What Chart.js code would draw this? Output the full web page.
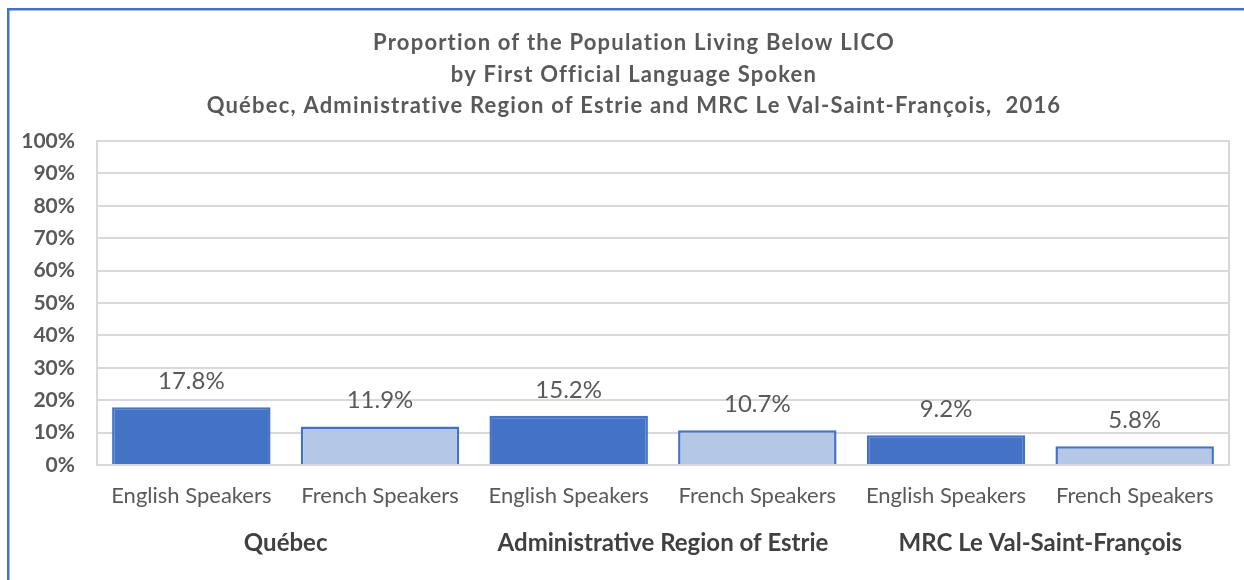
<!DOCTYPE html>
<html>
<head>
<meta charset="utf-8">
<script src="https://cdn.jsdelivr.net/npm/chart.js@4.4.1/dist/chart.umd.min.js"></script>
<style>
  html, body { margin: 0; padding: 0; background: #fff; }
  #wrap { width: 1244px; height: 580px; position: relative; }
</style>
</head>
<body>
<div id="wrap"><canvas id="c" width="1244" height="580"></canvas></div>
<script>
const categories = ["English Speakers", "French Speakers", "English Speakers", "French Speakers", "English Speakers", "French Speakers"];
const groups = ["Québec", "Administrative Region of Estrie", "MRC Le Val-Saint-François"];
const values = [17.8, 11.9, 15.2, 10.7, 9.2, 5.8];
const titleLines = [
  "Proportion of the Population Living Below LICO",
  "by First Official Language Spoken",
  "Québec, Administrative Region of Estrie and MRC Le Val-Saint-François,  2016"
];
const yTicks = [0, 10, 20, 30, 40, 50, 60, 70, 80, 90, 100];

const DARK = "#4472C4", LIGHT = "#B4C7E7", GRID = "#D9D9D9";
const FONT = "Lato, 'Liberation Sans', sans-serif";

const framePlugin = {
  id: "frame",
  beforeDraw(chart) {
    const ctx = chart.ctx;
    ctx.save();
    ctx.fillStyle = "#fff";
    ctx.fillRect(0, 0, chart.width, chart.height);
    ctx.fillStyle = DARK;
    ctx.fillRect(7, 8, chart.width - 7, 2.5);
    ctx.fillRect(7, 8, 2.5, chart.height - 8);
    // title
    ctx.fillStyle = "#595959";
    ctx.font = "bold 22px " + FONT;
    ctx.letterSpacing = "1.2px";
    ctx.textAlign = "center";
    ctx.textBaseline = "middle";
    titleLines.forEach((t, i) => ctx.fillText(t, 634, 43 + i * 31.5));
    ctx.restore();
  },
  afterDatasetsDraw(chart) {
    const ctx = chart.ctx;
    const a = chart.chartArea;
    ctx.save();
    ctx.strokeStyle = GRID;
    ctx.lineWidth = 2;
    ctx.beginPath();
    ctx.moveTo(a.right, a.top - 1);
    ctx.lineTo(a.right, a.bottom);
    ctx.stroke();
    // data labels
    const meta = chart.getDatasetMeta(0);
    ctx.fillStyle = "#595959";
    ctx.font = "24px " + FONT;
    ctx.textAlign = "center";
    ctx.textBaseline = "alphabetic";
    meta.data.forEach((bar, i) => {
      ctx.fillText(values[i].toFixed(1) + "%", bar.x, bar.y - 18);
    });
    ctx.restore();
  }
};

new Chart(document.getElementById("c"), {
  type: "bar",
  data: {
    labels: categories,
    datasets: [{
      data: values,
      backgroundColor: values.map((v, i) => i % 2 === 0 ? DARK : LIGHT),
      borderColor: DARK,
      borderWidth: 2.5,
      borderSkipped: "bottom",
      barPercentage: 0.84,
      categoryPercentage: 1.0
    }]
  },
  options: {
    responsive: false,
    animation: false,
    devicePixelRatio: 1,
    layout: { padding: { left: 0, right: 15, top: 141, bottom: 0 } },
    plugins: {
      legend: { display: false },
      tooltip: { enabled: false },
      title: { display: false }
    },
    scales: {
      y: {
        min: 0, max: 100,
        afterBuildTicks(scale) { scale.ticks = yTicks.map(v => ({ value: v })); },
        afterFit(scale) { scale.width = 97; },
        ticks: {
          color: "#595959",
          font: { family: FONT, size: 21, weight: "bold" },
          padding: 22,
          callback: v => v + "%"
        },
        grid: { color: GRID, lineWidth: 2, drawTicks: false },
        border: { display: true, color: GRID, width: 2 }
      },
      x: {
        weight: 0,
        afterFit(scale) { scale.height = 55; },
        ticks: {
          color: "#595959",
          font: { family: FONT, size: 22 },
          padding: 18,
          maxRotation: 0, autoSkip: false
        },
        grid: { display: false, drawTicks: false },
        border: { display: true, color: GRID, width: 2 }
      },
      x2: {
        type: "category",
        position: "bottom",
        weight: 1,
        labels: groups,
        offset: true,
        afterFit(scale) { scale.height = 60; },
        ticks: {
          color: "#404040",
          font: { family: FONT, size: 24, weight: "bold" },
          padding: 9,
          maxRotation: 0, autoSkip: false
        },
        grid: { display: false, drawTicks: false },
        border: { display: false }
      }
    }
  },
  plugins: [framePlugin]
});
</script>
</body>
</html>
